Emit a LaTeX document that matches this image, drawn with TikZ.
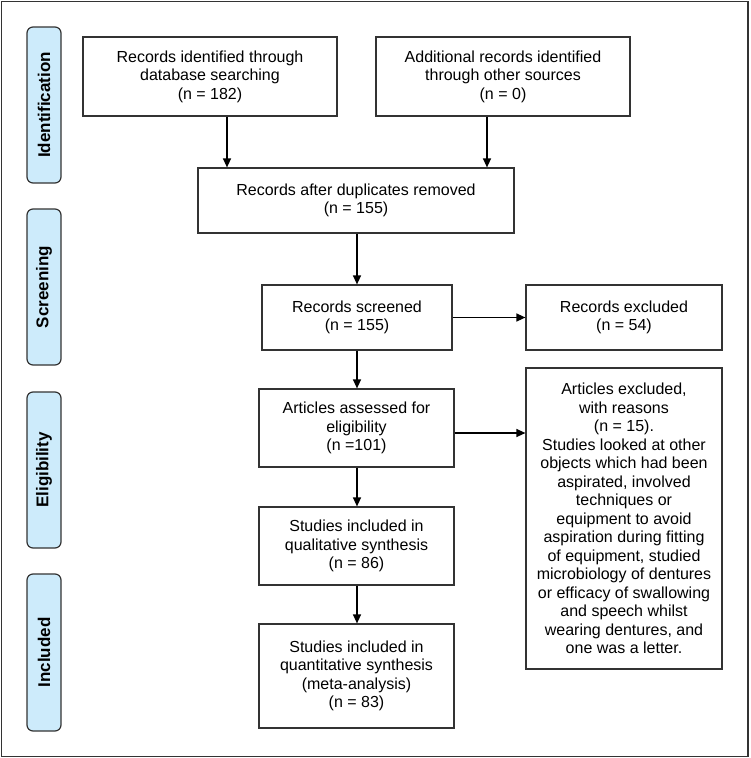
\documentclass[tikz,border=0pt]{standalone}
\usepackage{fontspec}
\setmainfont{Liberation Sans}
\usetikzlibrary{arrows.meta,calc}
\definecolor{sidefill}{HTML}{CDEBFB}
\definecolor{linegray}{HTML}{333333}
\begin{document}
\begin{tikzpicture}[x=1pt,y=-1pt,
  box/.style={draw=linegray,line width=1.2pt,rectangle,align=center,inner sep=0pt,
    font=\fontsize{16}{18.5}\selectfont},
  side/.style={draw=linegray,line width=1.2pt,fill=sidefill,rounded corners=6pt,
    rectangle,inner sep=0pt,minimum width=34pt},
  sidetext/.style={rotate=90,font=\fontsize{17}{20}\selectfont\bfseries},
  arr/.style={draw=black,line width=1.3pt,-{Triangle[length=9pt,width=8pt]}}]
\useasboundingbox (0,0) rectangle (750,758);
\draw[draw=linegray,line width=1.8pt] (1.5,1.5) rectangle (748,756.5);
% side labels
\node[side,minimum height=156pt] (s1) at (44,105) {};
\node[sidetext] (t1) at (s1.center) {Identification};
\node[side,minimum height=156pt] (s2) at (44,287) {};
\node[sidetext] (t2) at (s2.center) {Screening};
\node[side,minimum height=156pt] (s3) at (44,470) {};
\node[sidetext] (t3) at (s3.center) {Eligibility};
\node[side,minimum height=157pt] (s4) at (44,652.5) {};
\node[sidetext] (t4) at (s4.center) {Included};
% boxes
\node[box,minimum width=254pt,minimum height=79pt] (b1) at (210,76.5)
  {Records identified through\\database searching\\(n = 182)};
\node[box,minimum width=254pt,minimum height=79pt] (b2) at (503,76.5)
  {Additional records identified\\through other sources\\(n = 0)};
\node[box,minimum width=316pt,minimum height=65pt] (b3) at (356,200.5)
  {Records after duplicates removed\\(n = 155)};
\node[box,minimum width=190pt,minimum height=65pt] (b4) at (357,317.5)
  {Records screened\\(n = 155)};
\node[box,minimum width=196pt,minimum height=65pt] (b5) at (624,317.5)
  {Records excluded\\(n = 54)};
\node[box,minimum width=195pt,minimum height=78pt] (b6) at (356.5,428)
  {Articles assessed for\\eligibility\\(n =101)};
\node[box,minimum width=196pt,minimum height=301pt] (b7) at (624,518.5)
  {Articles excluded,\\with reasons\\(n = 15).\\Studies looked at other\\objects which had been\\aspirated, involved\\techniques or\\equipment to avoid\\aspiration during fitting\\of equipment, studied\\microbiology of dentures\\or efficacy of swallowing\\and speech whilst\\wearing dentures, and\\one was a letter.};
\node[box,minimum width=195pt,minimum height=78pt] (b8) at (356.5,546)
  {Studies included in\\qualitative synthesis\\(n = 86)};
\node[box,minimum width=195pt,minimum height=104pt] (b9) at (356.5,676)
  {Studies included in\\quantitative synthesis\\(meta-analysis)\\(n = 83)};
% arrows
\coordinate (c1) at (227,0);
\coordinate (c2) at (487,0);
\coordinate (c3) at (357,0);
\coordinate (c4) at (0,433);
\draw[arr] (b1.south -| c1) -- (b3.north -| c1);
\draw[arr] (b2.south -| c2) -- (b3.north -| c2);
\draw[arr] (b3.south -| c3) -- (b4.north -| c3);
\draw[arr] (b4.east) -- (b5.west);
\draw[arr] (b4.south -| c3) -- (b6.north -| c3);
\draw[arr] (b6.east |- c4) -- (b7.west |- c4);
\draw[arr] (b6.south -| c3) -- (b8.north -| c3);
\draw[arr] (b8.south -| c3) -- (b9.north -| c3);
\end{tikzpicture}
\end{document}
